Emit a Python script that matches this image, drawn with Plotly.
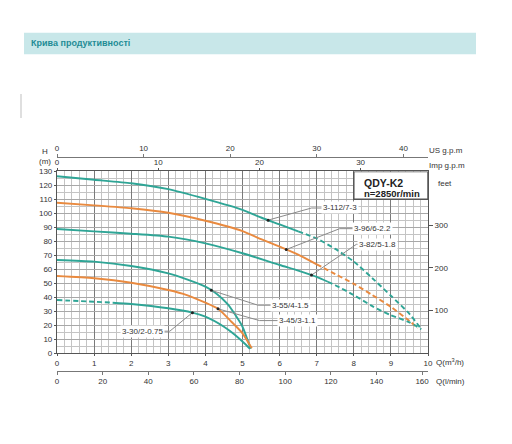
import plotly.graph_objects as go

# pump curves, Q in m3/h, H in m
models = ["3-112/7-3", "3-96/6-2.2", "3-82/5-1.8", "3-55/4-1.5", "3-45/3-1.1", "3-30/2-0.75"]

q_112 = [0, 1, 2, 3, 4, 5, 5.5, 6.0, 6.5, 7, 7.5, 8, 8.5, 9, 9.5, 9.82]
h_112 = [126.5, 124, 121.5, 117.3, 110.3, 102.5, 97, 92, 87, 82, 74.5, 65.5, 53.5, 41, 28, 17]

q_96 = [0, 1, 2, 3, 4, 5, 5.5, 6, 6.5, 7, 7.5, 8, 8.5, 9, 9.5, 9.73]
h_96 = [107.6, 105.7, 103.6, 100.4, 94.7, 87.3, 81.5, 76.1, 70.5, 63.5, 56.5, 49.5, 41.5, 33, 23, 17.7]

q_82 = [0, 1, 2, 3, 4, 5, 6, 6.5, 7, 7.3, 7.5, 8, 8.5, 9, 9.5, 9.82]
h_82 = [88.8, 87.1, 85.4, 83.3, 78.5, 71.4, 63, 59, 54.5, 51, 48.5, 41.5, 33.5, 27, 22, 17]

q_55 = [0, 1, 2, 3, 3.5, 4, 4.3, 4.6, 4.8, 5, 5.22]
h_55 = [66.6, 65.4, 62.3, 57, 52.7, 47.5, 42.5, 35, 27.5, 18.8, 3]

q_45 = [0, 1, 2, 3, 3.5, 4, 4.35, 4.7, 5, 5.25]
h_45 = [55.1, 53.5, 50.3, 45.1, 41.5, 36, 31.5, 22.4, 14.1, 3.4]

q_30 = [0, 1, 1.5, 2, 3, 3.65, 4, 4.5, 4.8, 5.1, 5.2]
h_30 = [37.9, 36.7, 36, 35.1, 32, 28.9, 26, 18.8, 12.9, 5.7, 3]

# where the curve turns dashed: (from Q, dashed side)
dash_split = [(6.5, "right"), (7, "right"), (7.3, "right"), (None, None), (None, None), (1.5, "left")]

curve_q = [q_112, q_96, q_82, q_55, q_45, q_30]
curve_h = [h_112, h_96, h_82, h_55, h_45, h_30]

TEAL = "#2fa596"
ORANGE = "#e98a3f"
curve_color = [TEAL, ORANGE, TEAL, TEAL, ORANGE, TEAL]

# callouts: point on curve -> elbow -> label
mark_q = [5.69, 6.18, 6.86, 4.16, 4.34, 3.65]
elbow_q = [6.86, 7.62, 8.07, 5.42, 5.46, 3.04]
elbow_h = [103.8, 89.0, 77.8, 34.2, 23.2, 15.6]
label_q = [7.62, 8.51, 8.65, 6.3, 6.47, 2.3]

fig = go.Figure()

for name, qs, hs, col, (split, side) in zip(models, curve_q, curve_h, curve_color, dash_split):
    if split is None:
        parts = [(qs, hs, "solid")]
    else:
        lo = [(q, h) for q, h in zip(qs, hs) if q <= split]
        hi = [(q, h) for q, h in zip(qs, hs) if q >= split]
        if side == "right":
            parts = [(lo, "solid"), (hi, "5px,3px")]
        else:
            parts = [(lo, "5px,3px"), (hi, "solid")]
        parts = [([p[0] for p in pts], [p[1] for p in pts], d) for pts, d in parts]
    for x, y, d in parts:
        fig.add_trace(go.Scatter(x=x, y=y, mode="lines", line=dict(color=col, width=1.9, dash=d,
                                 shape="spline", smoothing=0.6), showlegend=False, hoverinfo="skip"))

def interp(qs, hs, q):
    for i in range(len(qs) - 1):
        if qs[i] <= q <= qs[i + 1]:
            t = (q - qs[i]) / (qs[i + 1] - qs[i])
            return hs[i] + t * (hs[i + 1] - hs[i])
    return hs[-1]

for name, qs, hs, mq, eq, eh, lq in zip(models, curve_q, curve_h, mark_q, elbow_q, elbow_h, label_q):
    mh = interp(qs, hs, mq)
    fig.add_trace(go.Scatter(x=[mq, eq, lq], y=[mh, eh, eh], mode="lines",
                             line=dict(color="#8a8a8a", width=1), showlegend=False, hoverinfo="skip"))
    fig.add_trace(go.Scatter(x=[mq], y=[mh], mode="markers", marker=dict(color="#222", size=3),
                             showlegend=False, hoverinfo="skip"))
    fig.add_annotation(x=lq, y=eh, text=name, showarrow=False, bgcolor="white",
                       font=dict(size=8, color="#333"), borderpad=1)

# secondary axis carriers (invisible)
fig.add_trace(go.Scatter(x=[0, 1], y=[0, 0], xaxis="x2", yaxis="y", mode="markers",
                         marker=dict(opacity=0), showlegend=False, hoverinfo="skip"))
fig.add_trace(go.Scatter(x=[0, 1], y=[0, 0], xaxis="x3", yaxis="y", mode="markers",
                         marker=dict(opacity=0), showlegend=False, hoverinfo="skip"))
fig.add_trace(go.Scatter(x=[0, 1], y=[0, 0], xaxis="x4", yaxis="y", mode="markers",
                         marker=dict(opacity=0), showlegend=False, hoverinfo="skip"))
fig.add_trace(go.Scatter(x=[0, 0], y=[0, 1], xaxis="x", yaxis="y2", mode="markers",
                         marker=dict(opacity=0), showlegend=False, hoverinfo="skip"))

# page body adds an 8px margin, so work in page pixels and shift
OFF = 8
W, H = 504, 436
L, T = 57 - OFF, 130 - OFF
R, B = W - (428 - OFF), H - (384 - OFF)
PW, PH = W - L - R, H - T - B


def px(x):
    return (x - OFF - L) / PW


def py(y):
    return (H - B - (y - OFF)) / PH


tickfont = dict(size=8, color="#333")
axcol = "#555"

fig.update_layout(
    width=W, height=H, margin=dict(l=L, r=R, t=T, b=B),
    paper_bgcolor="white", plot_bgcolor="white",
    font=dict(family="Liberation Sans, Arial, sans-serif", size=8, color="#333"),
    xaxis=dict(range=[0, 10], dtick=1, showgrid=True, gridcolor="#7a7a7a", gridwidth=1,
               minor=dict(dtick=0.2, showgrid=True, gridcolor="#c4c4c4", gridwidth=0.6),
               showline=True, linecolor=axcol, linewidth=1.2, mirror=True,
               ticks="outside", ticklen=2, tickcolor=axcol, tickfont=tickfont, zeroline=False),
    yaxis=dict(range=[0, 130], dtick=10, domain=[py(353), py(171.4)], showgrid=True,
               gridcolor="#a8a8a8", gridwidth=0.7,
               minor=dict(dtick=5, showgrid=True, gridcolor="#c4c4c4", gridwidth=0.6),
               showline=True, linecolor=axcol, linewidth=1.2, mirror=True,
               ticks="outside", ticklen=2, tickcolor=axcol, tickfont=tickfont, zeroline=False),
    # US gpm
    xaxis2=dict(range=[0, 42.84], domain=[0, px(418)], anchor="free", overlaying="x", side="top",
                position=py(157), showline=True, linecolor="#777", linewidth=1, showgrid=False,
                ticks="outside", ticklen=3, tickcolor="#777", dtick=10, tickfont=tickfont,
                zeroline=False),
    # l/min
    xaxis3=dict(range=[0, 162.6], anchor="free", overlaying="x", side="bottom",
                position=py(370.7), showline=True, linecolor="#777", linewidth=1, showgrid=False,
                ticks="outside", ticklen=3, tickcolor="#777", dtick=20, tickfont=tickfont,
                zeroline=False),
    # Imp gpm
    xaxis4=dict(range=[0, 36.66], anchor="y", overlaying="x", side="top", showgrid=False,
                ticks="outside", ticklen=2, tickcolor=axcol, dtick=10, tickfont=tickfont,
                zeroline=False),
    # feet
    yaxis2=dict(range=[0, 426.5], overlaying="y", side="right", anchor="x", showgrid=False,
                tickvals=[100, 200, 300], ticks="outside", ticklen=4, tickcolor=axcol,
                tickfont=tickfont, zeroline=False),
)

# header band
fig.add_shape(type="rect", xref="paper", yref="paper", x0=px(24), x1=px(476), y0=py(54.3), y1=py(32.7),
              fillcolor="#c8e7e9", line=dict(width=0), layer="below")
fig.add_annotation(xref="paper", yref="paper", x=px(29), y=py(43.5), xanchor="left", yanchor="middle",
                   text="<b>Крива продуктивності</b>", showarrow=False,
                   font=dict(size=9, color="#1f8c96"))
fig.add_shape(type="line", xref="paper", yref="paper", x0=px(21), x1=px(21), y0=py(118), y1=py(94),
              line=dict(color="#d4d4d4", width=1.5))

# model box
fig.add_shape(type="rect", xref="x", yref="y", x0=8.0, x1=10, y0=110, y1=130,
              fillcolor="white", line=dict(color="#555", width=1.5))
fig.add_annotation(xref="paper", yref="paper", x=px(362), y=py(183), xanchor="left", yanchor="middle",
                   text="<b>QDY-K2</b>", showarrow=False, font=dict(size=10.5, color="#222"))
fig.add_annotation(xref="paper", yref="paper", x=px(362), y=py(193.5), xanchor="left", yanchor="middle",
                   text="<b>n=2850r/min</b>", showarrow=False, font=dict(size=9.5, color="#222"))

# axis titles
axis_titles = [
    ("H", 45, 151.7, "center"),
    ("(m)", 45, 161, "center"),
    ("US g.p.m", 427, 150.5, "left"),
    ("Imp g.p.m", 427, 165.5, "left"),
    ("feet", 436, 183, "left"),
    ("Q(m<sup>3</sup>/h)", 434, 361.5, "left"),
    ("Q(l/min)", 434, 381, "left"),
]
for txt, x, y, anc in axis_titles:
    fig.add_annotation(xref="paper", yref="paper", x=px(x), y=py(y), xanchor=anc, yanchor="middle",
                       text=txt, showarrow=False, font=dict(size=8, color="#333"))

fig.write_html("out.html")
